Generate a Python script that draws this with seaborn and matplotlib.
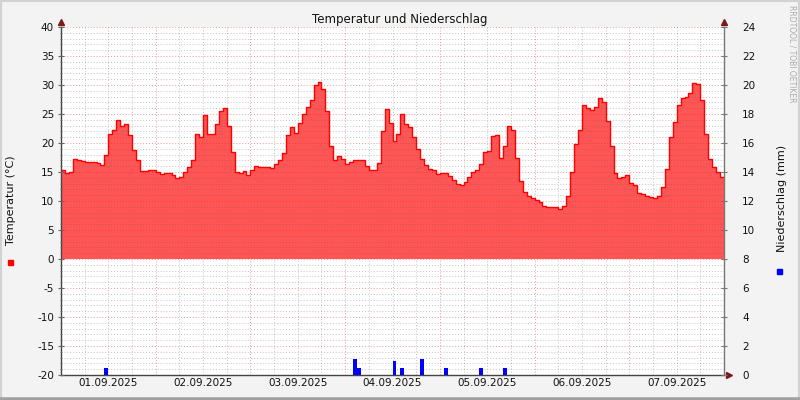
import matplotlib
matplotlib.use('Agg')
from matplotlib import pyplot as plt
from matplotlib.patches import Rectangle
from matplotlib.lines import Line2D
from matplotlib.ticker import MultipleLocator, NullFormatter
import numpy as np
import pandas as pd
import seaborn as sns

# hourly temperature (degC), 01.09.2025 00:00 .. 07.09.2025 23:00
temp_day1 = [15.3, 14.8, 15.0, 17.3, 17.0, 16.9, 16.8, 16.8, 16.7, 16.6, 16.2, 18.0,
             21.5, 22.3, 23.9, 22.9, 23.2, 21.3, 18.8, 17.0, 15.2, 15.2, 15.4, 15.4]
temp_day2 = [15.0, 14.6, 14.8, 14.9, 14.5, 13.9, 14.1, 15.0, 15.9, 17.0, 21.5, 21.0,
             24.9, 21.5, 21.5, 23.2, 25.5, 26.0, 23.0, 18.5, 15.0, 14.8, 15.2, 14.5]
temp_day3 = [15.4, 16.0, 15.8, 15.9, 15.9, 15.7, 16.3, 17.0, 18.3, 21.3, 22.8, 21.7,
             23.5, 25.0, 26.2, 27.5, 30.0, 30.5, 29.3, 25.5, 19.5, 17.0, 17.8, 17.3]
temp_day4 = [16.4, 16.7, 17.0, 17.0, 17.1, 16.0, 15.4, 15.3, 16.5, 22.0, 25.8, 23.5,
             20.3, 21.5, 25.0, 23.2, 22.7, 21.0, 19.0, 17.2, 16.2, 15.6, 15.3, 14.6]
temp_day5 = [14.8, 14.8, 14.3, 13.7, 12.9, 12.7, 13.2, 14.2, 15.0, 15.3, 16.3, 18.5,
             18.6, 21.2, 21.3, 17.5, 19.5, 23.0, 22.2, 17.5, 13.5, 11.5, 10.8, 10.5]
temp_day6 = [10.1, 9.8, 9.2, 9.0, 9.0, 9.0, 8.6, 9.2, 10.8, 15.0, 19.8, 22.2,
             26.5, 26.0, 25.7, 26.2, 27.8, 27.0, 23.8, 19.5, 14.8, 13.9, 14.2, 14.4]
temp_day7 = [13.1, 12.8, 11.4, 11.2, 10.9, 10.7, 10.5, 10.9, 12.5, 15.5, 21.0, 23.6,
             26.5, 27.8, 27.9, 28.6, 30.3, 30.2, 27.5, 21.5, 17.2, 15.8, 15.0, 14.2]

# hourly precipitation (mm): hour index since 01.09. 00:00 and amount
rain_hours = [11, 74, 75, 84, 86, 91, 97, 106, 112]
rain_mm = [0.5, 1.1, 0.5, 1.0, 0.5, 1.1, 0.5, 0.5, 0.5]

dates = ['01.09.2025', '02.09.2025', '03.09.2025', '04.09.2025',
         '05.09.2025', '06.09.2025', '07.09.2025']


def main():
    temps = temp_day1 + temp_day2 + temp_day3 + temp_day4 + temp_day5 + temp_day6 + temp_day7
    hours = np.arange(len(temps) + 1)
    values = np.append(temps, temps[-1])  # close last step
    df = pd.DataFrame({'hour': hours, 'temp': values})

    sns.set_style('white')
    plt.rcParams['font.family'] = ['DejaVu Sans']
    plt.rcParams['axes.unicode_minus'] = False

    fig = plt.figure(figsize=(8, 4), dpi=100)
    fig.patch.set_facecolor('#F3F3F3')
    ax = fig.add_axes([61 / 800, 25 / 400, 663 / 800, 348 / 400])
    ax.set_facecolor('white')

    ax.fill_between(df['hour'], 0, df['temp'], step='post',
                    color='#FF5555', linewidth=0, zorder=1)
    sns.lineplot(data=df, x='hour', y='temp', ax=ax, color='#FF0000',
                 linewidth=1.0, drawstyle='steps-post', zorder=3)

    ax.set_xlim(0, len(temps))
    ax.set_ylim(-20, 40)
    ax.xaxis.set_major_locator(MultipleLocator(24))
    ax.xaxis.set_minor_locator(MultipleLocator(6))
    ax.xaxis.set_major_formatter(NullFormatter())
    ax.yaxis.set_major_locator(MultipleLocator(5))
    ax.yaxis.set_minor_locator(MultipleLocator(1))

    # grid: grey dotted minor, reddish dotted major; horizontal grid over the fill
    # (alpha must be passed on its own, grid.alpha would override an RGBA colour)
    ax.grid(which='minor', color='#555555', alpha=0.35, linestyle=(0, (1, 2)), linewidth=0.7)
    ax.grid(which='major', color='#CC2222', alpha=0.45, linestyle=(0, (1, 2)), linewidth=0.7)
    ax.set_axisbelow(True)
    ax.yaxis.set_zorder(2.5)

    ax.set_xlabel('')
    ax.set_ylabel('')
    ax.tick_params(axis='both', which='both', direction='inout', color='#666666',
                   labelsize=7.5, labelcolor='#111111')
    ax.tick_params(axis='both', which='major', length=4, width=0.8)
    ax.tick_params(axis='both', which='minor', length=2, width=0.5)
    ax.tick_params(axis='y', which='major', pad=3)
    for side in ['top', 'right']:
        ax.spines[side].set_visible(False)
    for side in ['left', 'bottom']:
        ax.spines[side].set_color('#444444')
        ax.spines[side].set_linewidth(1.0)

    # date labels centred on each day
    for i, d in enumerate(dates):
        ax.text(24 * i + 12, -0.024, d, transform=ax.get_xaxis_transform(),
                ha='center', va='center', fontsize=7.5, color='#111111')

    # precipitation on the right axis
    ax2 = ax.twinx()
    ax2.bar(rain_hours, rain_mm, width=1, align='edge', color='#0000FF',
            linewidth=0, zorder=4)
    ax2.set_ylim(0, 24)
    ax2.yaxis.set_major_locator(MultipleLocator(2))
    ax2.grid(False)
    ax2.tick_params(axis='y', which='major', direction='inout', length=4, width=0.8,
                    color='#777777', labelsize=7.5, labelcolor='#111111', pad=11)
    for side in ['top', 'left', 'bottom']:
        ax2.spines[side].set_visible(False)
    ax2.spines['right'].set_color('#777777')
    ax2.spines['right'].set_linewidth(1.0)

    # axis arrows
    arrow = dict(color='#7A1A1A', markersize=4, clip_on=False, zorder=6)
    ax.plot([0], [1 + 5 / 348], marker='^', transform=ax.transAxes, **arrow)
    ax.plot([1], [1 + 5 / 348], marker='^', transform=ax.transAxes, **arrow)
    ax.plot([1 + 5 / 663], [0], marker='>', transform=ax.transAxes, **arrow)

    fig.text(0.5, 1 - 19 / 400, 'Temperatur und Niederschlag', ha='center',
             va='center', fontsize=8.5, color='#111111')
    fig.text(11 / 800, 1 - 200 / 400, 'Temperatur (°C)', rotation=90,
             ha='center', va='center', fontsize=8, color='#111111')
    fig.text(782 / 800, 1 - 198 / 400, 'Niederschlag (mm)', rotation=90,
             ha='center', va='center', fontsize=8, color='#111111')
    fig.text(792 / 800, 1 - 5 / 400, 'RRDTOOL / TOBI OETIKER', rotation=270,
             ha='center', va='top', fontsize=5.5, color='#AAAAAA')

    # legend squares
    fig.add_artist(Rectangle((8 / 800, 1 - 265 / 400), 5 / 800, 5 / 400,
                             color='#FF0000', transform=fig.transFigure))
    fig.add_artist(Rectangle((777 / 800, 1 - 274 / 400), 5 / 800, 5 / 400,
                             color='#0000FF', transform=fig.transFigure))

    # frame
    light, dark = '#D2D2D2', '#A0A0A0'
    fig.add_artist(Line2D([0, 1], [1, 1], color=light, lw=3, transform=fig.transFigure))
    fig.add_artist(Line2D([0, 0], [0, 1], color=light, lw=3, transform=fig.transFigure))
    fig.add_artist(Line2D([1, 1], [0, 1], color=light, lw=3, transform=fig.transFigure))
    fig.add_artist(Line2D([0, 1], [0, 0], color=dark, lw=4, transform=fig.transFigure))

    fig.savefig('out.png', dpi=100, facecolor=fig.get_facecolor())
    plt.close(fig)


if __name__ == "__main__":
    main()
